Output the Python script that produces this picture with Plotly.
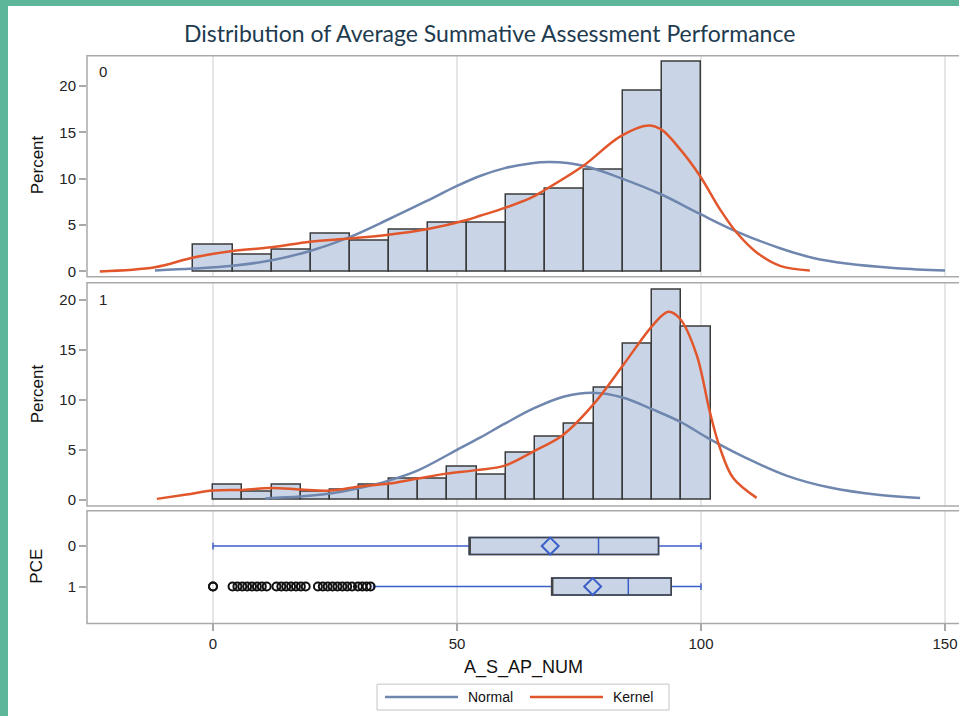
import plotly.graph_objects as go

# ---------------- data ----------------
bin_centers_0 = [0, 8, 16, 24, 32, 40, 48, 56, 64, 72, 80, 88, 96]
bin_width_0 = 8
percent_0 = [2.85, 1.8, 2.35, 4.1, 3.35, 4.5, 5.25, 5.25, 8.25, 8.9, 11.0, 19.5, 22.6]

bin_centers_1 = [3, 9, 15, 21, 27, 33, 39, 45, 51, 57, 63, 69, 75, 81, 87, 93, 99]
bin_width_1 = 6
percent_1 = [1.43, 0.77, 1.43, 0.8, 0.95, 1.43, 2.03, 2.03, 3.26, 2.5, 4.66, 6.25, 7.58, 11.2, 15.6, 21.0, 17.3]

normal_x_0 = [-11.9, -4, 4, 12, 19.9, 28, 35.9, 43.8, 49.9, 54.7, 59.8, 65, 69.1, 75.9, 83.4, 91.9, 99.8, 107.3, 116.2, 123, 129.8, 140.1, 150]
normal_y_0 = [0.1, 0.3, 0.6, 1.2, 2.2, 3.7, 5.6, 7.6, 9.2, 10.3, 11.15, 11.65, 11.8, 11.4, 10.1, 8.3, 6.2, 4.3, 2.5, 1.45, 0.85, 0.35, 0.1]

kernel_x_0 = [-23.2, -11.9, -4, 4, 12, 19.9, 28, 35.9, 43.8, 52, 54.7, 59.8, 65, 67.7, 75.9, 83.4, 89.2, 91.9, 95.7, 99.8, 103.9, 107.3, 111.4, 116.2, 122.3]
kernel_y_0 = [0.0, 0.45, 1.5, 2.2, 2.6, 3.2, 3.55, 3.95, 4.55, 5.55, 6.0, 6.85, 7.9, 8.7, 11.4, 14.55, 15.75, 15.3, 13.2, 10.3, 6.7, 4.2, 2.05, 0.6, 0.1]

normal_x_1 = [10.7, 17.8, 24, 30, 36, 41.9, 49.9, 54.7, 59.8, 65.6, 71.8, 77.9, 84.1, 90.2, 95.7, 101.8, 109.3, 117.5, 126.4, 136.7, 144.9]
normal_y_1 = [0.12, 0.3, 0.6, 1.15, 1.9, 2.9, 4.95, 6.2, 7.6, 9.1, 10.3, 10.7, 10.2, 9.0, 7.8, 6.05, 4.15, 2.4, 1.2, 0.45, 0.15]

kernel_x_1 = [-11.5, -5.4, 0, 6.1, 12, 18, 24, 30, 36, 41.9, 47.9, 54, 59.8, 65.6, 71.8, 77.9, 84.1, 90.2, 93.3, 95.7, 99.1, 101.8, 103.9, 106.6, 111.4]
kernel_y_1 = [0.07, 0.5, 0.9, 0.97, 1.17, 1.0, 0.9, 1.3, 1.6, 2.1, 2.6, 2.95, 3.4, 4.8, 6.5, 9.5, 13.5, 17.5, 18.8, 18.1, 14.5, 8.8, 5.15, 2.15, 0.17]

box_groups = [0, 1]
box_q1 = [52.5, 69.4]
box_median = [79.0, 85.1]
box_q3 = [91.3, 93.9]
box_lower = [0.0, 32.9]
box_upper = [100.0, 100.0]
box_mean = [69.1, 77.8]
outliers_1 = [0, 0, 4, 5, 6, 7, 8, 9, 10, 11, 13, 14, 15, 16, 17, 18, 19,
              21.5, 22.5, 23.5, 24.5, 25.5, 26.5, 27.5, 28.5, 29.7, 30.6, 31.5, 32.3]

x_ticks = [0, 50, 100, 150]
y_ticks_hist = [0, 5, 10, 15, 20]

title_text = "Distribution of Average Summative Assessment Performance"
x_title = "A_S_AP_NUM"

# ---------------- styling ----------------
W, H = 959, 719
def fx(p):
    return p / W
def fy(p):
    return 1 - p / H

BAR_FILL = "#C9D5E6"
BAR_LINE = "#3A3A3A"
NORMAL_C = "#6F86AE"
KERNEL_C = "#E2562B"
WHISK_C = "#3A5FC8"
FRAME_C = "#A9A9A9"
GRID_C = "#E6E6E6"
TXT_C = "#222222"
FONT = "Liberation Sans, Arial, sans-serif"

fig = go.Figure()

# histograms
fig.add_trace(go.Bar(x=bin_centers_0, y=percent_0, width=[bin_width_0] * len(bin_centers_0),
                     marker=dict(color=BAR_FILL, line=dict(color=BAR_LINE, width=1.5)),
                     xaxis="x", yaxis="y", showlegend=False))
fig.add_trace(go.Scatter(x=normal_x_0, y=normal_y_0, mode="lines", line=dict(color=NORMAL_C, width=2.5, shape="spline"),
                         xaxis="x", yaxis="y", showlegend=False, name="Normal"))
fig.add_trace(go.Scatter(x=kernel_x_0, y=kernel_y_0, mode="lines", line=dict(color=KERNEL_C, width=2.5, shape="spline"),
                         xaxis="x", yaxis="y", showlegend=False, name="Kernel"))

fig.add_trace(go.Bar(x=bin_centers_1, y=percent_1, width=[bin_width_1] * len(bin_centers_1),
                     marker=dict(color=BAR_FILL, line=dict(color=BAR_LINE, width=1.5)),
                     xaxis="x2", yaxis="y2", showlegend=False))
fig.add_trace(go.Scatter(x=normal_x_1, y=normal_y_1, mode="lines", line=dict(color=NORMAL_C, width=2.5, shape="spline"),
                         xaxis="x2", yaxis="y2", showlegend=False, name="Normal"))
fig.add_trace(go.Scatter(x=kernel_x_1, y=kernel_y_1, mode="lines", line=dict(color=KERNEL_C, width=2.5, shape="spline"),
                         xaxis="x2", yaxis="y2", showlegend=False, name="Kernel"))

# box plots: blue whiskers/median, then dark outline of box
fig.add_trace(go.Box(orientation="h", y=box_groups, q1=box_q1, median=box_median, q3=box_q3,
                     lowerfence=box_lower, upperfence=box_upper, boxpoints=False,
                     fillcolor=BAR_FILL, line=dict(color=WHISK_C, width=1.5),
                     whiskerwidth=0.4, width=0.42, xaxis="x3", yaxis="y3", showlegend=False))
fig.add_trace(go.Box(orientation="h", y=box_groups, q1=box_q1, median=box_q1, q3=box_q3,
                     lowerfence=box_q1, upperfence=box_q3, boxpoints=False,
                     fillcolor="rgba(0,0,0,0)", line=dict(color="#444444", width=1.5),
                     whiskerwidth=0, width=0.42, xaxis="x3", yaxis="y3", showlegend=False))
fig.add_trace(go.Scatter(x=box_mean, y=box_groups, mode="markers",
                         marker=dict(symbol="diamond-open", size=13, color=WHISK_C, line=dict(width=2, color=WHISK_C)),
                         xaxis="x3", yaxis="y3", showlegend=False))
fig.add_trace(go.Scatter(x=outliers_1, y=[box_groups[1]] * len(outliers_1), mode="markers",
                         marker=dict(symbol="circle-open", size=8, color="#111111", line=dict(width=2, color="#111111")),
                         xaxis="x3", yaxis="y3", showlegend=False))

xr = [(87 - 213) / 4.88, (959 - 213) / 4.88]
xdom = [fx(87), 1]

common_x = dict(range=xr, domain=xdom, tickvals=x_ticks, showgrid=True, gridcolor=GRID_C, gridwidth=1.5,
                zeroline=False, showline=False)
tickfont = dict(family=FONT, size=15, color=TXT_C)

ycommon = dict(showgrid=False, zeroline=False, ticks="outside", ticklen=7, tickcolor=FRAME_C, tickwidth=1.5,
               tickfont=tickfont)

fig.update_layout(
    width=W, height=H, margin=dict(l=0, r=0, t=0, b=0),
    paper_bgcolor="white", plot_bgcolor="white",
    barmode="overlay", boxmode="overlay", bargap=0,
    xaxis=dict(**common_x, anchor="y", showticklabels=False, ticks=""),
    xaxis2=dict(**common_x, anchor="y2", showticklabels=False, ticks=""),
    xaxis3=dict(**common_x, anchor="y3", showticklabels=True, ticks="outside", ticklen=7,
                tickcolor=FRAME_C, tickwidth=1.5, tickfont=tickfont),
    yaxis=dict(domain=[fy(278), fy(56)], range=[-0.59, 23.28], tickvals=y_ticks_hist, anchor="x", **ycommon),
    yaxis2=dict(domain=[fy(508), fy(284)], range=[-0.63, 21.7], tickvals=y_ticks_hist, anchor="x2", **ycommon),
    yaxis3=dict(domain=[fy(626), fy(513)], range=[1.91, -0.87], tickvals=box_groups, anchor="x3", **ycommon),
)

shapes = []
# green frame
shapes.append(dict(type="rect", xref="paper", yref="paper", x0=0, x1=fx(8), y0=0, y1=1,
                   fillcolor="#5DB59A", line=dict(width=0), layer="above"))
shapes.append(dict(type="rect", xref="paper", yref="paper", x0=0, x1=1, y0=fy(6), y1=1,
                   fillcolor="#5DB59A", line=dict(width=0), layer="above"))
# panel frames (open at right edge)
for top, bot in [(56, 278), (284, 508), (513, 626)]:
    shapes.append(dict(type="rect", xref="paper", yref="paper", x0=fx(87), x1=1.02, y0=fy(bot), y1=fy(top),
                       line=dict(color=FRAME_C, width=1.5), fillcolor="rgba(0,0,0,0)", layer="above"))
# legend
shapes.append(dict(type="rect", xref="paper", yref="paper", x0=fx(377), x1=fx(669), y0=fy(713), y1=fy(687),
                   line=dict(color="#C4C4C4", width=1), fillcolor="white"))
shapes.append(dict(type="line", xref="paper", yref="paper", x0=fx(385), x1=fx(458), y0=fy(700), y1=fy(700),
                   line=dict(color=NORMAL_C, width=2.5)))
shapes.append(dict(type="line", xref="paper", yref="paper", x0=fx(530), x1=fx(603), y0=fy(700), y1=fy(700),
                   line=dict(color=KERNEL_C, width=2.5)))

annotations = [
    dict(text=title_text, x=fx(489.5), y=fy(33), xref="paper", yref="paper", showarrow=False,
         xanchor="center", yanchor="middle", font=dict(family="Lato, sans-serif", size=23, color="#1E3B4F")),
    dict(text="Percent", x=fx(37), y=fy(166), xref="paper", yref="paper", showarrow=False, textangle=-90,
         xanchor="center", yanchor="middle", font=dict(family=FONT, size=17, color="#111111")),
    dict(text="Percent", x=fx(37), y=fy(396), xref="paper", yref="paper", showarrow=False, textangle=-90,
         xanchor="center", yanchor="middle", font=dict(family=FONT, size=17, color="#111111")),
    dict(text="PCE", x=fx(37), y=fy(569), xref="paper", yref="paper", showarrow=False, textangle=-90,
         xanchor="center", yanchor="middle", font=dict(family=FONT, size=17, color="#111111")),
    dict(text="0", x=fx(97), y=fy(72), xref="paper", yref="paper", showarrow=False,
         xanchor="left", yanchor="middle", font=dict(family=FONT, size=15, color=TXT_C)),
    dict(text="1", x=fx(97), y=fy(301), xref="paper", yref="paper", showarrow=False,
         xanchor="left", yanchor="middle", font=dict(family=FONT, size=15, color=TXT_C)),
    dict(text=x_title, x=fx(523), y=fy(670), xref="paper", yref="paper", showarrow=False,
         xanchor="center", yanchor="middle", font=dict(family=FONT, size=18, color="#111111")),
    dict(text="Normal", x=fx(466), y=fy(700), xref="paper", yref="paper", showarrow=False,
         xanchor="left", yanchor="middle", font=dict(family=FONT, size=14, color="#111111")),
    dict(text="Kernel", x=fx(611), y=fy(700), xref="paper", yref="paper", showarrow=False,
         xanchor="left", yanchor="middle", font=dict(family=FONT, size=14, color="#111111")),
]
fig.update_layout(shapes=shapes, annotations=annotations)

fig.write_html("out.html", config={"displayModeBar": False},
               post_script="document.body.style.margin='0px';document.body.style.overflow='hidden';")
